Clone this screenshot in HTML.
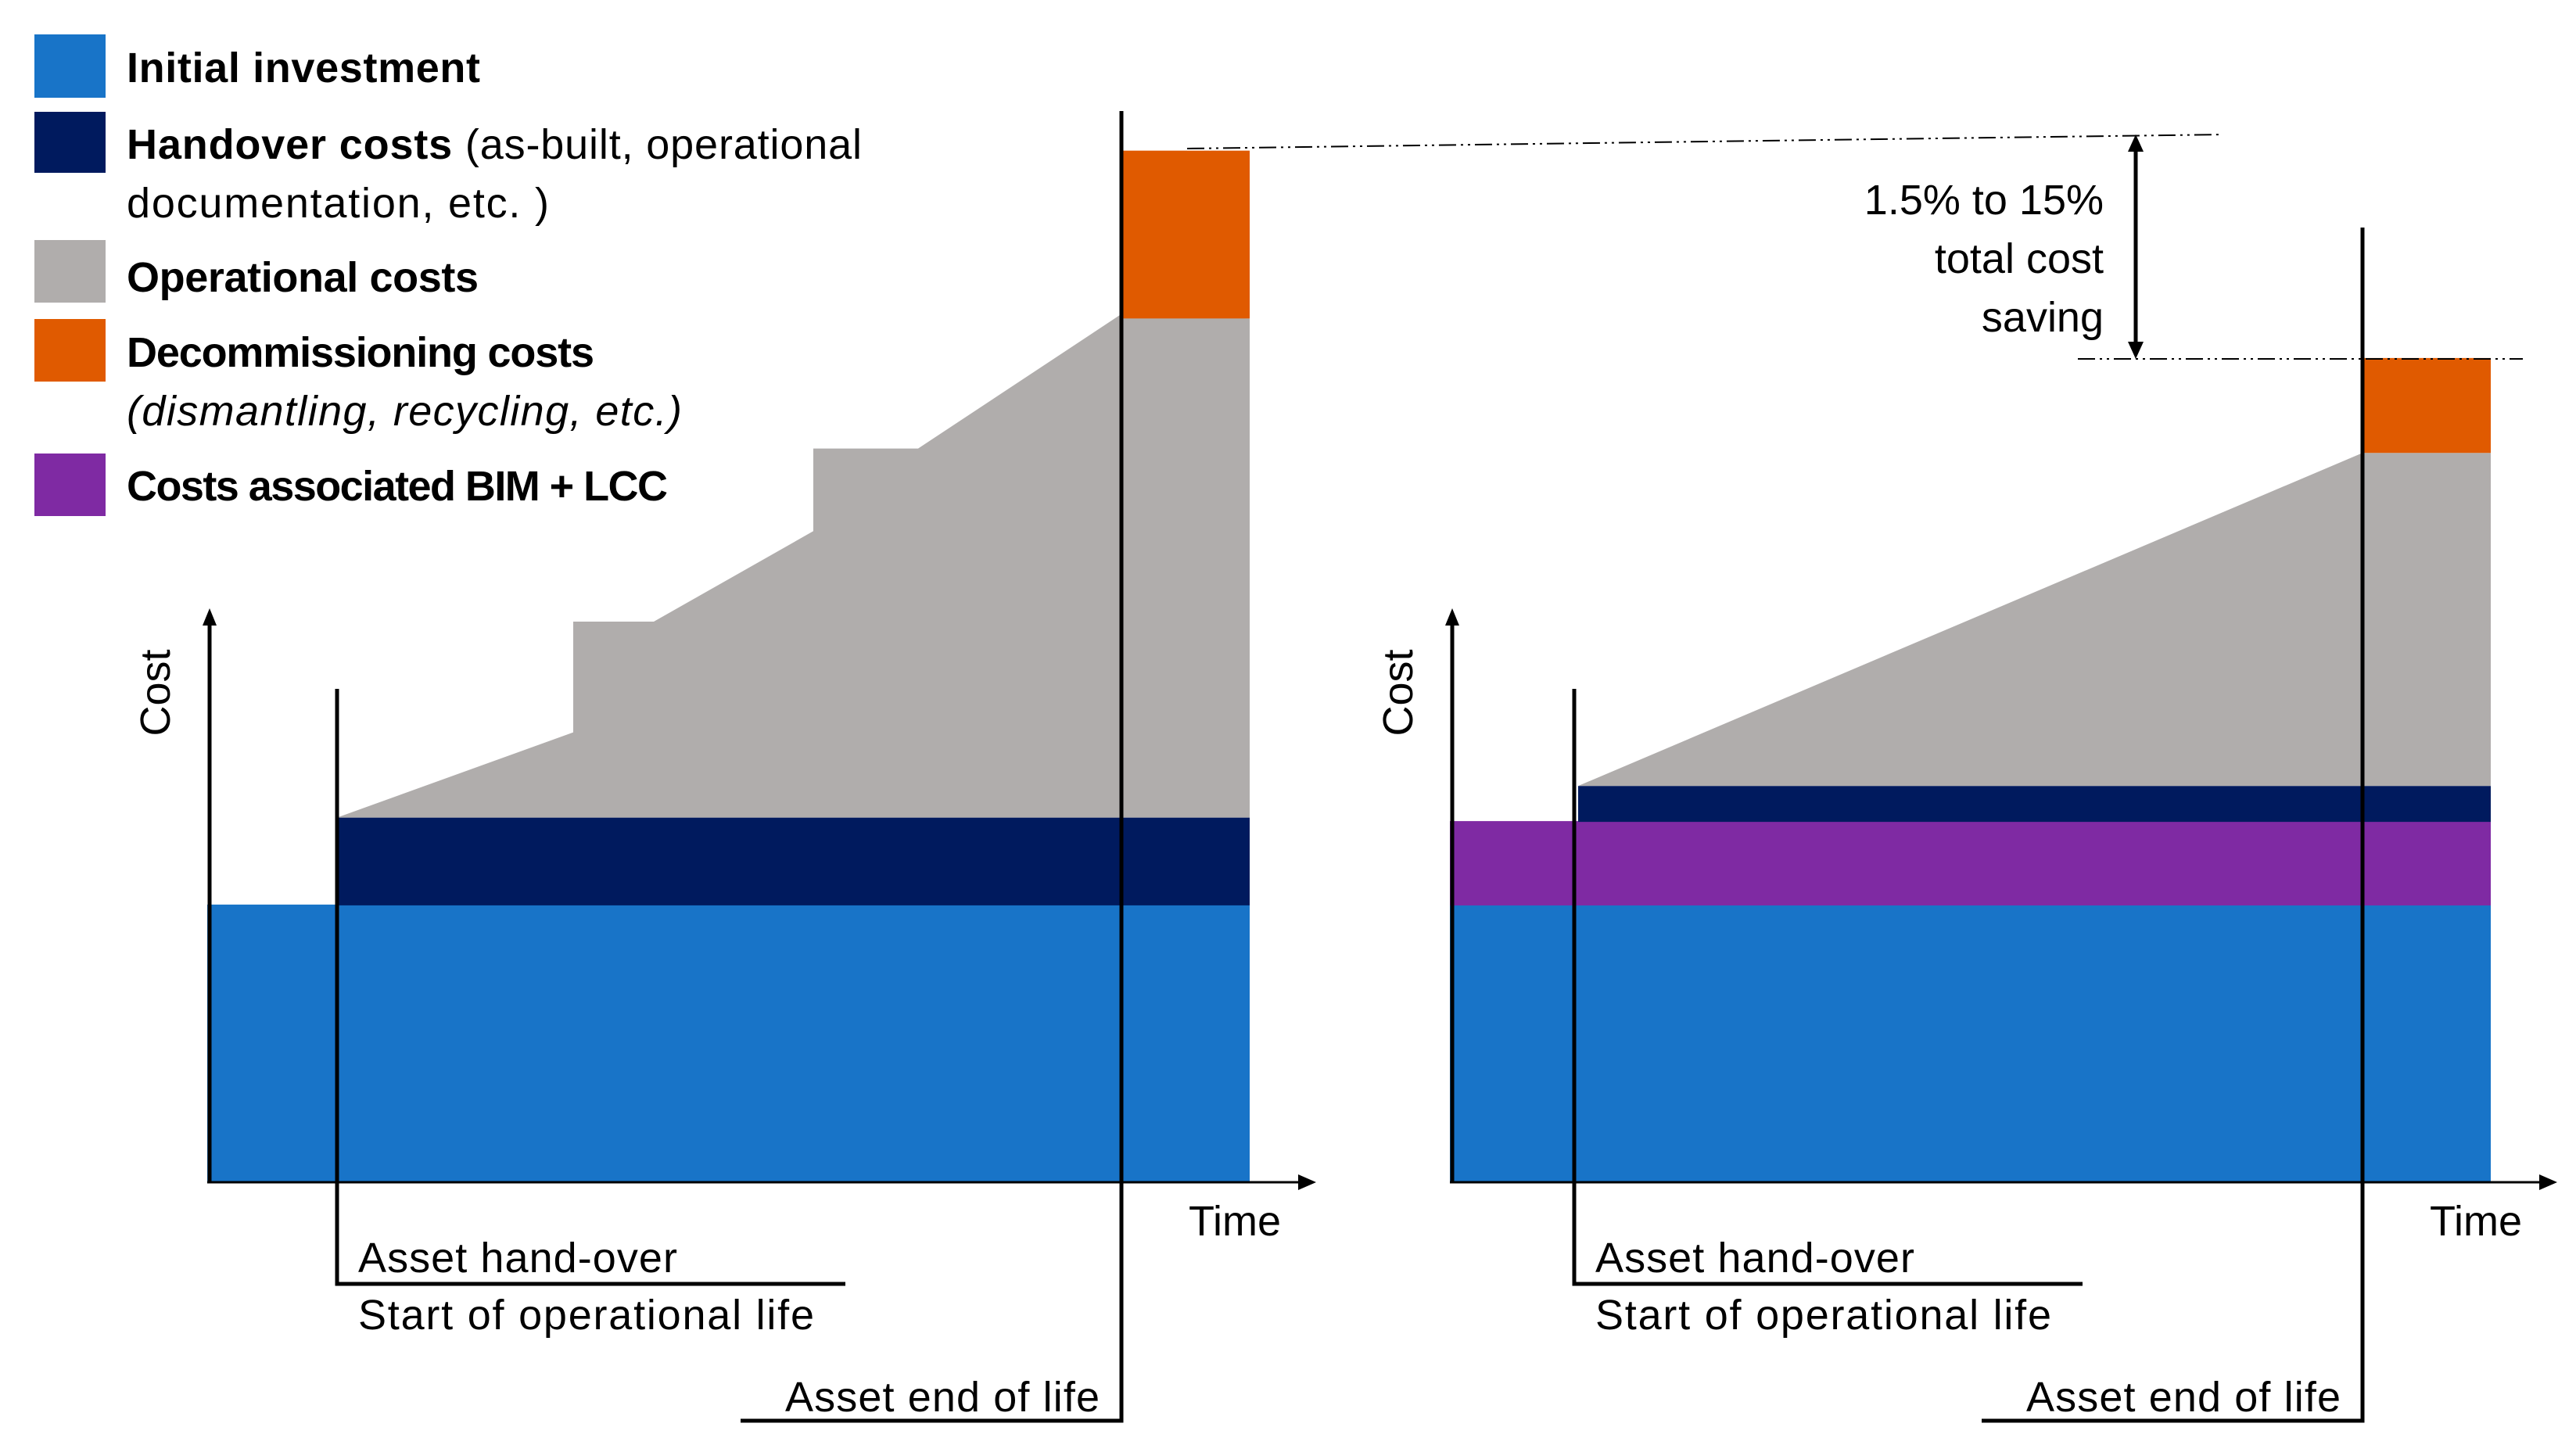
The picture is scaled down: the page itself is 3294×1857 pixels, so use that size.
<!DOCTYPE html>
<html><head><meta charset="utf-8"><style>
html,body{margin:0;padding:0;background:#fff}
svg{display:block}
text{font-family:"Liberation Sans",sans-serif;fill:#000}
</style></head><body>
<svg id="c" width="3294" height="1857" viewBox="0 0 3294 1857" xmlns="http://www.w3.org/2000/svg">
<g>
<rect x="44" y="44" width="91" height="81" fill="#1874C8"/>
<text x="162" y="105" font-size="54" font-weight="bold" textLength="452">Initial investment</text>
<rect x="44" y="143" width="91" height="78" fill="#001A5E"/>
<text x="162" y="203" font-size="54" textLength="940"><tspan font-weight="bold">Handover costs</tspan> (as-built, operational</text>
<text x="162" y="278" font-size="54" textLength="540">documentation, etc. )</text>
<rect x="44" y="307" width="91" height="80" fill="#B0ADAC"/>
<text x="162" y="373" font-size="54" font-weight="bold" textLength="450">Operational costs</text>
<rect x="44" y="408" width="91" height="80" fill="#E05A00"/>
<text x="162" y="469" font-size="54" font-weight="bold" textLength="598">Decommissioning costs</text>
<text x="162" y="544" font-size="54" font-style="italic" textLength="710">(dismantling, recycling, etc.)</text>
<rect x="44" y="580" width="91" height="80" fill="#7F2AA3"/>
<text x="162" y="640" font-size="54" font-weight="bold" textLength="692">Costs associated BIM + LCC</text>
</g>
<g id="marks"></g>
<g>
<line x1="1518" y1="190" x2="2842" y2="172" stroke="#000" stroke-width="2" stroke-dasharray="22,6,3,6,3,6"/>
<line x1="2657" y1="459" x2="3226" y2="459" stroke="#000" stroke-width="2" stroke-dasharray="22,6,3,6,3,6"/>
<line x1="2731" y1="190" x2="2731" y2="442" stroke="#000" stroke-width="5"/>
<polygon points="2731,172 2721,194 2741,194" fill="#000"/>
<polygon points="2731,459 2721,437 2741,437" fill="#000"/>
<text x="2690" y="274" font-size="54" text-anchor="end">1.5% to 15%</text>
<text x="2690" y="349" font-size="54" text-anchor="end">total cost</text>
<text x="2690" y="424" font-size="54" text-anchor="end">saving</text>
</g>
</svg>
<script>
// Left chart data (time units, cost units)
const leftInitial = 31.6;
const leftHandoverTop = 41.5;
const leftOpT = [16.6, 46.8, 46.8, 57.1, 77.5, 77.5, 90.9, 116.9, 133.3];
const leftOpV = [41.5, 51.2, 63.8, 63.8, 74.1, 83.5, 83.5, 98.8, 98.3];
const leftDecomTop = 117.4;
// Right chart data
const rightInitial = 31.5;
const rightBimTop = 41.1;
const rightHandoverTop = 45.1;
const rightOpT = [16.4, 116.7, 133.1];
const rightOpV = [45.1, 83.0, 83.0];
const rightDecomTop = 93.8;
const handoverT = [16.6, 15.9];
const endT = [116.9, 116.7];

const NS = 'http://www.w3.org/2000/svg';
const g = document.getElementById('marks');
function mk(tag, attrs){const e=document.createElementNS(NS,tag);for(const k in attrs)e.setAttribute(k,attrs[k]);g.appendChild(e);return e;}

function drawChart(x0, side, initial, bimTop, handTop, opT, opV, decTop, hT, eT, endTopY){
  const base = 1512;
  const xs = t => x0 + t*10;
  const ys = v => base - v*11.238;
  const tEnd = opT[opT.length-1];
  const tOpStart = opT[0];
  const decStart = eT;
  let r = mk('rect',{x:xs(0),y:ys(initial),width:xs(tEnd)-xs(0),height:ys(0)-ys(initial),fill:'#1874C8'});
  
  
  let lower = initial;
  if (bimTop !== null){
    r = mk('rect',{x:xs(0),y:ys(bimTop),width:xs(tEnd)-xs(0),height:ys(initial)-ys(bimTop),fill:'#7F2AA3'});
    
    
    lower = bimTop;
  }
  r = mk('rect',{x:xs(tOpStart),y:ys(handTop),width:xs(tEnd)-xs(tOpStart),height:ys(lower)-ys(handTop)+1,fill:'#001A5E'});
  
  
  let pts = opT.map((t,i)=>xs(t)+','+ys(opV[i])).join(' ');
  pts += ' '+xs(tEnd)+','+ys(handTop)+' '+xs(tOpStart)+','+ys(handTop);
  r = mk('polygon',{points:pts,fill:'#B0ADAC'});
  
  
  const opEndV = opV[opV.length-1];
  r = mk('rect',{x:xs(decStart),y:ys(decTop),width:xs(tEnd)-xs(decStart),height:ys(opEndV)-ys(decTop),fill:'#E05A00'});
  
  
  const ax = xs(0)+3;
  r = mk('line',{x1:ax,y1:base,x2:ax,y2:798,stroke:'#000','stroke-width':5});
  
  
  r = mk('polygon',{points:(ax)+',778 '+(ax-9)+',800 '+(ax+9)+',800',fill:'#000'});
  
  
  r = mk('line',{x1:xs(0),y1:base,x2:xs(tEnd)+70,y2:base,stroke:'#000','stroke-width':3});
  
  
  r = mk('polygon',{points:(xs(tEnd)+85)+','+base+' '+(xs(tEnd)+62)+','+(base-10)+' '+(xs(tEnd)+62)+','+(base+10),fill:'#000'});
  
  
  const t1 = mk('text',{x:0,y:0,'font-size':54,transform:'translate('+(xs(0)-48)+',886) rotate(-90)','text-anchor':'middle'});
  t1.textContent='Cost';
  
  
  const t2 = mk('text',{x:xs(tEnd)-78,y:1580,'font-size':54});
  t2.textContent='Time';
  
  
  const hx = xs(hT);
  r = mk('polyline',{points:hx+',881 '+hx+',1642 '+(hx+650)+',1642',fill:'none',stroke:'#000','stroke-width':5});
  
  
  let t = mk('text',{x:hx+27,y:1627,'font-size':54,textLength:408});
  t.textContent='Asset hand-over';
  
  
  t = mk('text',{x:hx+27,y:1700,'font-size':54,textLength:583});
  t.textContent='Start of operational life';
  
  
  const ex = xs(eT);
  r = mk('polyline',{points:ex+','+endTopY+' '+ex+',1817 '+(ex-487)+',1817',fill:'none',stroke:'#000','stroke-width':5});
  
  
  t = mk('text',{x:ex-430,y:1805,'font-size':54,textLength:402});
  t.textContent='Asset end of life';
  
  
}
drawChart(265,'left',leftInitial,null,leftHandoverTop,leftOpT,leftOpV,leftDecomTop,handoverT[0],endT[0],142);
drawChart(1854,'right',rightInitial,rightBimTop,rightHandoverTop,rightOpT,rightOpV,rightDecomTop,handoverT[1],endT[1],291);
</script>
</body></html>
